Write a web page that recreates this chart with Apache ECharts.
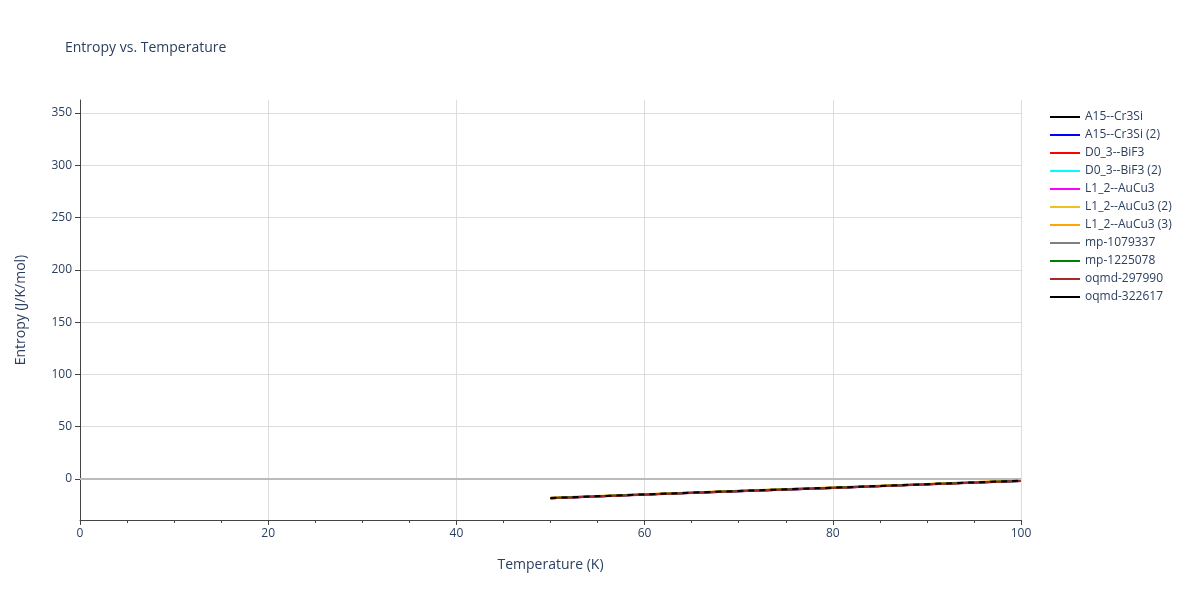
<!DOCTYPE html><html><head><meta charset="utf-8"><script src="https://cdn.jsdelivr.net/npm/echarts@6/dist/echarts.min.js"></script></head><body style="margin:0"><div id="c" style="width:1200px;height:600px"></div><script>
const temps=[50,60,70,80,90,100];
const names=['A15--Cr3Si','A15--Cr3Si (2)','D0_3--BiF3','D0_3--BiF3 (2)','L1_2--AuCu3','L1_2--AuCu3 (2)','L1_2--AuCu3 (3)','mp-1079337','mp-1225078','oqmd-297990','oqmd-322617'];
const colors=['#000000','#0000ff','#ff0000','#00ffff','#ff00ff','#f0c020','#ffa500','#808080','#008000','#a52a2a','#000000'];
const values=[
[-18.4,-14.9,-11.6,-8.5,-5.1,-1.8],
[-18.4,-14.9,-11.6,-8.5,-5.1,-1.8],
[-18.3,-14.8,-11.5,-8.4,-5.0,-1.7],
[-18.3,-14.8,-11.5,-8.4,-5.0,-1.7],
[-18.3,-14.8,-11.5,-8.4,-5.0,-1.7],
[-18.0,-14.5,-11.2,-8.1,-4.7,-1.3],
[-18.0,-14.5,-11.2,-8.1,-4.7,-1.3],
[-18.2,-14.7,-11.4,-8.3,-4.9,-1.6],
[-18.2,-14.7,-11.4,-8.3,-4.9,-1.6],
[-18.5,-15.0,-11.7,-8.6,-5.2,-1.9],
[-18.2,-14.7,-11.4,-8.3,-4.9,-1.6]];
const yTicks=[0,50,100,150,200,250,300,350];
const yMinor=[];for(let v=-30;v<=360;v+=10)yMinor.push(v);
const txt='#2a3f5f';
const series=names.map((n,i)=>({name:n,type:'line',showSymbol:false,symbol:'none',data:temps.map((t,j)=>[t,values[i][j]]),
 lineStyle:{color:colors[i],width:2,type:i==10?[6,5]:'solid'},itemStyle:{color:colors[i]},z:i==10?5:2}));
series.push({type:'line',data:[],markLine:{silent:true,symbol:'none',label:{show:false},lineStyle:{color:'#bbb',width:2,type:'solid'},data:[{yAxis:0}]}});
const ch=echarts.init(document.getElementById('c'));
ch.setOption({animation:false,textStyle:{fontFamily:'Open Sans'},
title:{text:'Entropy vs. Temperature',left:60,top:36,textStyle:{fontSize:14,fontWeight:'normal',color:txt}},
legend:{orient:'vertical',left:1045,top:106,itemWidth:30,itemHeight:2,itemGap:6,icon:'path://M0,0H30V2H0Z',textStyle:{color:txt,fontSize:12},data:names},
grid:{left:80,right:179,top:100,bottom:80},
xAxis:{type:'value',min:0,max:100,interval:20,name:'Temperature (K)',nameLocation:'middle',nameGap:38,nameTextStyle:{color:txt,fontSize:14},
 axisLine:{onZero:false,lineStyle:{color:'#444'}},axisTick:{show:true,length:5,lineStyle:{color:'#444'}},minorTick:{show:true,splitNumber:4,length:3},
 axisLabel:{color:txt,fontSize:12},splitLine:{show:true,lineStyle:{color:'#ddd'}}},
yAxis:{type:'value',min:-39.2,max:362.4,name:'Entropy (J/K/mol)',nameLocation:'middle',nameGap:52,nameTextStyle:{color:txt,fontSize:14},
 axisLine:{show:true,lineStyle:{color:'#444'}},axisTick:{show:true,length:5,customValues:yTicks,lineStyle:{color:'#444'}},
 axisLabel:{color:txt,fontSize:12,customValues:yTicks},splitLine:{show:true,lineStyle:{color:'#ddd'}}},
series});
</script></body></html>
